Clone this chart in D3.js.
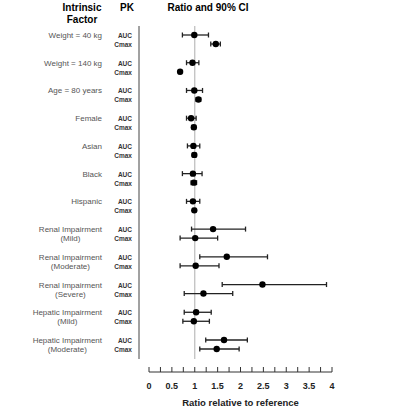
<!DOCTYPE html><html><head><meta charset="utf-8"><script src="https://cdn.jsdelivr.net/npm/d3@7"></script>
<style>body{margin:0;background:#fff}text{font-family:Arial,"Liberation Sans",sans-serif}</style></head><body><svg id="c" width="400" height="410"></svg>
<script>
const factors=[["Weight = 40 kg"],["Weight = 140 kg"],["Age = 80 years"],["Female"],["Asian"],["Black"],["Hispanic"],["Renal Impairment","(Mild)"],["Renal Impairment","(Moderate)"],["Renal Impairment","(Severe)"],["Hepatic Impairment","(Mild)"],["Hepatic Impairment","(Moderate)"]];
const aucEst=[0.99,0.95,0.99,0.92,0.97,0.96,0.96,1.40,1.70,2.48,1.03,1.64];
const aucLo=[0.73,0.82,0.82,0.82,0.84,0.73,0.82,0.93,1.11,1.60,0.77,1.24];
const aucHi=[1.30,1.09,1.17,1.03,1.11,1.16,1.11,2.11,2.59,3.88,1.36,2.15];
const cmaxEst=[1.46,0.68,1.08,0.98,0.99,0.98,0.99,1.01,1.02,1.19,0.98,1.48];
const cmaxLo=[1.35,0.65,1.03,0.94,0.95,0.92,0.96,0.68,0.68,0.77,0.74,1.11];
const cmaxHi=[1.56,0.71,1.13,1.02,1.03,1.04,1.02,1.50,1.53,1.83,1.32,1.97];
const tickLabels=["0","0.5","1","1.5","2","2.5","3","3.5","4"];
const svg=d3.select("#c");
const x=d3.scaleLinear().domain([0,4]).range([149,332]);
const y=d3.scaleLinear().domain([0,11]).range([35,340]);
const off=9;
svg.append("text").attr("x",82).attr("y",11).attr("text-anchor","middle").attr("font-weight","bold").attr("font-size",10).text("Intrinsic");
svg.append("text").attr("x",82).attr("y",23).attr("text-anchor","middle").attr("font-weight","bold").attr("font-size",10).text("Factor");
svg.append("text").attr("x",127).attr("y",11).attr("text-anchor","middle").attr("font-weight","bold").attr("font-size",10).text("PK");
svg.append("text").attr("x",208).attr("y",11).attr("text-anchor","middle").attr("font-weight","bold").attr("font-size",10).text("Ratio and 90% CI");
svg.append("line").attr("x1",139).attr("x2",139).attr("y1",26).attr("y2",359).attr("stroke","#444").attr("stroke-width",1);
svg.append("line").attr("x1",x(1)).attr("x2",x(1)).attr("y1",26).attr("y2",359).attr("stroke","#bbb").attr("stroke-width",1.2);
const rows=[];
factors.forEach((f,i)=>{
  const t0=svg.append("text").attr("x",102).attr("y",y(i)+3).attr("text-anchor","end").attr("font-size",8).attr("fill","#555").text(f[0]);
  if(f[1]){const w=t0.node().getComputedTextLength();
    svg.append("text").attr("x",102-w/2).attr("y",y(i)+off+3).attr("text-anchor","middle").attr("font-size",8).attr("fill","#555").text(f[1]);}
  ["AUC","Cmax"].forEach((p,j)=>svg.append("text").attr("x",132).attr("y",y(i)+j*off+3).attr("text-anchor","end").attr("font-size",6.5).attr("font-weight","bold").attr("fill","#333").text(p));
  rows.push({yy:y(i),e:aucEst[i],lo:aucLo[i],hi:aucHi[i]});
  rows.push({yy:y(i)+off,e:cmaxEst[i],lo:cmaxLo[i],hi:cmaxHi[i]});
});
const g=svg.append("g");
rows.forEach(r=>{
  g.append("line").attr("x1",x(r.lo)).attr("x2",x(r.hi)).attr("y1",r.yy).attr("y2",r.yy).attr("stroke","#222").attr("stroke-width",1.3);
  [r.lo,r.hi].forEach(v=>g.append("line").attr("x1",x(v)).attr("x2",x(v)).attr("y1",r.yy-2.5).attr("y2",r.yy+2.5).attr("stroke","#222").attr("stroke-width",1.3));
  g.append("circle").attr("cx",x(r.e)).attr("cy",r.yy).attr("r",3.2).attr("fill","#000");
});
const ax=svg.append("g").attr("transform","translate(0,372)");
ax.append("line").attr("x1",x(0)).attr("x2",x(4)).attr("y1",0).attr("y2",0).attr("stroke","#333");
d3.range(0,4.01,0.25).forEach(v=>ax.append("line").attr("x1",x(v)).attr("x2",x(v)).attr("y1",0).attr("y2",-5).attr("stroke","#333"));
tickLabels.forEach(t=>ax.append("text").attr("x",x(+t)).attr("y",17).attr("text-anchor","middle").attr("font-size",9).attr("font-weight","bold").attr("fill","#222").text(t));
svg.append("text").attr("x",x(2)).attr("y",406).attr("text-anchor","middle").attr("font-size",9.5).attr("font-weight","bold").attr("fill","#222").text("Ratio relative to reference");
</script></body></html>
